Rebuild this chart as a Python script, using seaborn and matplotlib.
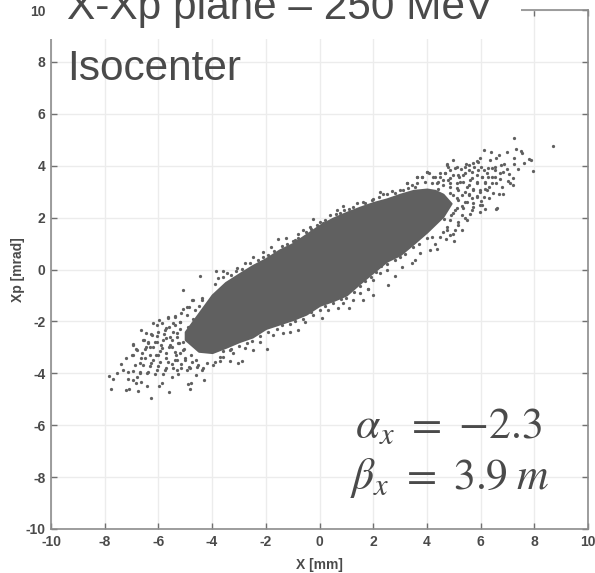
import matplotlib
matplotlib.use('Agg')
import pandas as pd
import seaborn as sns
import matplotlib.pyplot as plt
from matplotlib.patches import Rectangle

GREY = '#606060'
TEXT = '#4a4a4a'

TICKS = [-10, -8, -6, -4, -2, 0, 2, 4, 6, 8, 10]

# envelope of the solid part of the cloud
core_x = [-5.0, -4.5, -4.0, -3.5, -3.0, -2.5, -2.0, -1.5, -1.0, -0.5, 0.0, 0.5, 1.0, 1.5, 2.0, 2.5, 3.0, 3.5, 4.0, 4.3, 4.6, 4.9]
core_upper = [-2.4, -1.69, -0.98, -0.5, -0.17, 0.15, 0.42, 0.75, 1.0, 1.35, 1.7, 1.98, 2.2, 2.4, 2.58, 2.72, 2.9, 3.05, 3.1, 3.05, 2.9, 2.55]
core_lower = [-2.7, -3.15, -3.2, -3.0, -2.78, -2.6, -2.27, -2.1, -1.93, -1.72, -1.38, -1.2, -0.98, -0.53, -0.1, 0.32, 0.57, 1.0, 1.45, 1.75, 2.05, 2.55]

# single points
right_tail = [(8.70, 4.76), (7.24, 5.07), (6.12, 4.62), (6.40, 4.51), (6.69, 4.42), (7.00, 4.54), (7.32, 4.64), (7.49, 4.58),
              (7.55, 4.49), (5.98, 4.30), (6.57, 4.31), (6.35, 4.21), (4.96, 4.22), (7.26, 4.31), (7.25, 4.05), (7.80, 4.26),
              (7.86, 4.21), (7.62, 4.10), (7.40, 3.89), (7.96, 3.78), (6.89, 4.08), (6.76, 4.01), (6.99, 3.89), (5.88, 4.18),
              (5.47, 4.05), (5.73, 4.09), (4.02, 3.76), (4.76, 4.07), (4.79, 3.96), (5.11, 3.94), (6.85, 3.77), (7.05, 3.68),
              (7.21, 3.51), (7.03, 3.41), (7.11, 3.32), (7.22, 3.26), (6.74, 3.49), (6.58, 3.32), (6.81, 3.19), (6.67, 2.91),
              (6.85, 2.91), (6.58, 2.33), (5.74, 3.96), (5.55, 3.82), (5.26, 3.88), (6.03, 3.95), (6.43, 3.92), (6.54, 3.83),
              (6.23, 3.70), (5.86, 3.64), (6.05, 3.58), (5.67, 3.51), (5.36, 3.64), (4.99, 3.64), (4.68, 3.70), (4.49, 3.58),
              (4.24, 3.58), (3.81, 3.58), (6.42, 3.58), (6.73, 3.70), (6.17, 3.39), (5.86, 3.32), (5.55, 3.26), (5.24, 3.39),
              (6.33, 3.19), (5.98, 3.0), (5.73, 3.06), (5.42, 3.0), (5.67, 2.74), (6.05, 2.49), (5.73, 2.4), (5.5, 2.62),
              (5.11, 3.13), (4.86, 3.32), (4.61, 3.26), (4.38, 3.32), (4.45, 2.92), (4.85, 2.95), (5.12, 2.75), (5.3, 2.45),
              (5.05, 2.3), (4.8, 2.55), (4.55, 2.6), (4.9, 2.1), (5.55, 2.9), (6.15, 3.1), (5.2, 3.55), (4.8, 3.45),
              (4.6, 2.2), (4.4, 3.1), (4.62, 1.95), (5.6, 2.15), (5.85, 2.85), (6.0, 2.65)]

right_fringe = [(4.74, 4.03), (4.86, 3.83), (5.05, 3.90), (4.68, 3.70), (4.49, 3.73), (4.30, 3.58), (4.06, 3.73), (3.62, 3.55),
                (3.25, 3.32), (3.43, 3.26), (3.62, 3.32), (3.93, 3.38), (4.18, 3.32), (4.43, 3.38), (4.61, 3.45), (4.86, 3.51),
                (5.17, 3.64), (5.42, 3.96), (5.55, 4.03), (5.92, 4.15), (5.42, 3.71), (5.67, 3.77), (5.92, 3.83), (6.11, 3.83),
                (6.29, 3.90), (6.54, 3.96), (6.04, 3.58), (6.29, 3.58), (6.54, 3.58), (5.11, 3.32), (5.36, 3.38), (5.61, 3.45),
                (5.86, 3.38), (6.17, 3.32), (6.42, 3.32), (4.86, 3.19), (5.17, 3.06), (5.48, 3.17), (5.73, 3.09), (5.98, 3.06),
                (6.23, 3.06), (6.48, 2.94), (4.99, 2.87), (5.30, 2.87), (5.55, 2.87), (5.86, 2.81), (6.11, 2.81), (5.17, 2.68),
                (5.42, 2.61), (5.73, 2.55), (5.98, 2.49), (5.67, 2.29), (5.98, 2.23), (5.36, 2.36), (5.11, 2.36), (4.99, 2.16),
                (5.30, 2.10), (5.48, 1.91), (5.17, 1.71), (4.86, 1.91), (4.74, 1.65), (5.05, 1.52), (4.61, 1.46), (4.86, 1.33),
                (4.49, 1.24), (4.18, 1.27), (6.17, 2.32), (6.60, 2.36), (6.33, 2.74)]

left_tail = [(-7.83, -4.09), (-7.68, -4.22), (-7.78, -4.62), (-7.19, -4.63), (-7.08, -4.59), (-6.75, -4.67), (-6.28, -4.94),
             (-5.61, -4.71), (-5.98, -4.48), (-5.85, -4.37), (-6.42, -4.49), (-6.84, -4.39), (-6.63, -4.32), (-4.83, -4.62),
             (-4.91, -4.40), (-4.78, -4.37), (-4.32, -4.26), (-4.60, -4.06), (-7.54, -3.97), (-7.31, -3.87), (-7.40, -3.65),
             (-7.21, -3.42), (-6.94, -2.91), (-6.84, -3.06), (-6.96, -3.29), (-6.63, -2.34), (-6.47, -2.46), (-6.22, -2.52),
             (-6.19, -2.05), (-5.99, -1.95), (-5.85, -2.07), (-6.53, -2.72), (-6.38, -2.81), (-6.13, -2.78), (-7.13, -3.94),
             (-6.94, -3.91), (-6.69, -4.0), (-6.44, -4.0), (-6.13, -4.04), (-5.82, -4.04), (-5.51, -4.13), (-5.26, -4.04),
             (-7.13, -4.22), (-6.94, -4.26), (-6.81, -4.13), (-5.63, -1.82), (-5.39, -1.78), (-5.08, -1.52), (-4.76, -1.17),
             (-4.39, -1.09), (-5.7, -2.27), (-5.45, -2.39), (-5.2, -2.01), (-4.95, -1.75), (-6.3, -3.0), (-6.1, -3.3),
             (-5.9, -2.9), (-5.7, -3.4), (-5.5, -3.0), (-5.4, -3.5), (-5.2, -3.2), (-5.0, -3.5), (-6.5, -3.4), (-6.3, -3.7),
             (-6.0, -3.7), (-5.7, -3.8), (-5.5, -2.7), (-5.3, -2.6), (-5.1, -2.8), (-5.8, -2.5), (-5.6, -2.2), (-5.2, -2.3),
             (-4.9, -2.2), (-4.7, -1.9), (-4.6, -3.5), (-4.8, -3.3), (-6.7, -3.6), (-6.6, -3.2), (-6.2, -3.5), (-5.95, -3.15),
             (-5.6, -3.0), (-5.35, -3.3), (-5.05, -3.05), (-5.25, -2.85), (-5.7, -2.65), (-5.4, -2.15), (-4.95, -2.55),
             (-4.85, -3.75), (-5.15, -3.65), (-5.5, -3.65), (-6.05, -2.55), (-6.45, -3.0), (-4.75, -2.85), (-4.65, -1.55),
             (-4.5, -1.4), (-4.85, -1.45)]

left_fringe = [(-6.07, -2.14), (-6.26, -2.50), (-6.0, -2.40), (-5.76, -2.33), (-5.63, -1.88), (-5.39, -1.82), (-5.14, -1.69),
               (-4.95, -1.43), (-4.70, -1.18), (-4.39, -1.18), (-5.45, -2.07), (-5.2, -2.01), (-5.57, -2.59), (-5.32, -2.46),
               (-5.82, -2.72), (-6.07, -2.78), (-6.38, -2.85), (-6.57, -2.72), (-6.94, -2.88), (-6.81, -3.10), (-7.0, -3.30),
               (-6.5, -3.08), (-6.19, -2.97), (-5.88, -3.04), (-5.57, -2.91), (-5.26, -2.85), (-6.63, -3.42), (-6.32, -3.30),
               (-6.0, -3.30), (-5.7, -3.23), (-5.39, -3.17), (-5.07, -3.10), (-6.88, -3.68), (-6.57, -3.68), (-6.26, -3.62),
               (-5.95, -3.55), (-5.63, -3.55), (-5.32, -3.49), (-5.01, -3.42), (-4.76, -3.55), (-6.69, -3.94), (-6.38, -3.95),
               (-6.07, -3.87), (-5.76, -3.87), (-5.45, -3.81), (-5.14, -3.81), (-4.83, -3.81), (-4.52, -3.68), (-4.2, -3.62),
               (-3.9, -3.55), (-3.71, -3.36), (-3.34, -3.1), (-4.39, -3.87)]

upper_edge = [(-5.08, -0.79), (-4.45, -0.25), (-3.87, -0.05), (-3.61, -0.05), (-3.77, -0.34), (-3.44, -0.12), (-3.06, 0.07),
              (-2.78, 0.24), (-2.47, 0.49), (-2.09, 0.68), (-1.82, 0.88), (-1.53, 1.16), (-1.24, 1.2), (-0.91, 1.14), (-0.79, 1.37),
              (-0.23, 1.96), (0.02, 1.84), (0.14, 1.8), (-0.35, 1.63), (-0.60, 1.52), (0.66, 2.29), (0.89, 2.45), (0.76, 2.16),
              (1.26, 2.42), (1.63, 2.61), (1.94, 2.68), (2.25, 3.0), (2.38, 2.91), (2.69, 3.04), (3.25, 3.32), (3.62, 3.55),
              (3.81, 3.55), (4.02, 3.74), (3.56, 3.19), (3.0, 3.06),
              (-3.9, -0.55), (-3.6, -0.3), (-3.3, -0.2), (-3.1, -0.05), (-2.9, 0.02), (-2.6, 0.25), (-2.3, 0.35), (-2.1, 0.5),
              (-1.9, 0.55), (-1.7, 0.7), (-1.4, 0.9), (-1.2, 1.0), (-1.0, 1.1), (-0.8, 1.2), (-0.5, 1.45), (-0.3, 1.55),
              (-0.1, 1.7), (0.2, 1.9), (0.4, 2.1), (0.6, 2.15), (0.9, 2.3), (1.1, 2.35), (1.4, 2.55), (1.7, 2.55),
              (2.0, 2.72), (2.2, 2.8), (2.5, 2.9), (2.8, 2.95), (3.1, 3.05), (3.3, 3.15)]

lower_edge = [(2.56, -0.61), (3.06, 0.11), (2.81, -0.25), (2.53, 0.0), (3.56, 0.37), (3.43, 0.24), (4.12, 0.75), (4.39, 0.79),
              (4.30, 1.0), (4.70, 1.18), (5.01, 1.11), (4.99, 1.35), (5.30, 1.52), (5.17, 1.84), (5.42, 1.97), (4.74, 1.52),
              (3.99, 1.2), (3.75, 0.62), (1.82, -0.76), (2.0, -0.4), (2.25, -0.15), (0.08, -1.88), (-0.23, -1.75), (-0.54, -2.01),
              (0.33, -1.56), (0.70, -1.5), (1.11, -1.5), (0.89, -1.3), (1.26, -1.18), (1.63, -1.18), (1.98, -0.98), (1.82, -0.75),
              (1.51, -0.92), (-1.97, -3.08), (-2.88, -3.51), (-3.03, -3.62), (-3.34, -3.53), (-3.71, -3.53), (-3.96, -3.68),
              (-4.33, -3.81), (-2.47, -3.1), (-2.22, -2.78), (-1.72, -2.52), (-1.35, -2.46), (-1.10, -2.39), (-0.81, -2.33),
              (-2.78, -3.04), (-3.21, -3.23), (-3.59, -3.36), (-4.58, -3.74), (-4.95, -3.87), (-5.32, -3.87),
              (-3.6, -3.15), (-3.3, -3.05), (-3.0, -2.95), (-2.7, -2.85), (-2.5, -2.75), (-2.2, -2.55), (-1.9, -2.4),
              (-1.6, -2.3), (-1.4, -2.15), (-1.1, -2.1), (-0.9, -2.0), (-0.6, -1.9), (-0.3, -1.65), (0.0, -1.55), (0.2, -1.4),
              (0.5, -1.3), (0.8, -1.15), (1.0, -1.1), (1.3, -0.85), (1.5, -0.65), (1.7, -0.45), (1.9, -0.3), (2.1, -0.1),
              (2.3, 0.15), (2.5, 0.2), (2.8, 0.35), (3.0, 0.5), (3.2, 0.6), (3.5, 0.85), (3.7, 1.0)]


def main():
    sns.set_theme(style='white')
    plt.rcParams['font.family'] = ['Liberation Sans', 'DejaVu Sans']
    plt.rcParams['mathtext.fontset'] = 'stix'
    plt.rcParams['axes.unicode_minus'] = False

    all_points = right_tail + right_fringe + left_tail + left_fringe + upper_edge + lower_edge
    points = pd.DataFrame(all_points, columns=['x', 'y'])

    fig = plt.figure(figsize=(5.95, 5.73), dpi=100)
    ax = fig.add_axes([51 / 595, 44 / 573, 537 / 595, 519 / 573])

    ax.fill_between(core_x, core_lower, core_upper, color=GREY, lw=1.5, zorder=3)
    sns.scatterplot(data=points, x='x', y='y', ax=ax, s=5.5, color=GREY, linewidth=0, legend=False, zorder=4)

    ax.set_xlim(-10, 10)
    ax.set_ylim(-10, 10)
    ax.set_xticks(TICKS)
    ax.set_yticks(TICKS)
    ax.grid(True, color='#ececec', lw=1)
    ax.set_axisbelow(True)
    ax.tick_params(direction='in', length=4, width=1, color='#707070', top=True, right=True, bottom=True, left=True,
                   labelsize=10, labelcolor=TEXT, pad=4)
    for lab in ax.get_xticklabels() + ax.get_yticklabels():
        lab.set_fontweight('bold')
    for sp in ax.spines.values():
        sp.set_color('#8c8c8c')
        sp.set_linewidth(1.2)
    ax.set_xlabel('X [mm]', fontsize=10, fontweight='bold', color=TEXT, labelpad=7)
    ax.set_ylabel('Xp [mrad]', fontsize=10, fontweight='bold', color=TEXT, labelpad=0)

    # white box of the slide title sits over the top of the axes
    fig.add_artist(Rectangle((49 / 595, 534 / 573), 472 / 595, 39 / 573, transform=fig.transFigure,
                             facecolor='white', edgecolor='none', zorder=5))
    fig.text(67 / 595, (573 - 19) / 573, 'X-Xp plane – 250 MeV', fontsize=30.5, color=TEXT, va='baseline', zorder=6)
    fig.text(67 / 595, (573 - 80) / 573, 'Isocenter', fontsize=30.5, color=TEXT, va='baseline', zorder=6)
    fig.text(355 / 595, (573 - 438) / 573, r'$\alpha_x\ =\ {-}2.3$', fontsize=31.5, color=TEXT, va='baseline', zorder=6)
    fig.text(350 / 595, (573 - 489) / 573, r'$\beta_x\ =\ 3.9\;m$', fontsize=31.5, color=TEXT, va='baseline', zorder=6)

    fig.savefig('out.png', dpi=100)


if __name__ == "__main__":
    main()
